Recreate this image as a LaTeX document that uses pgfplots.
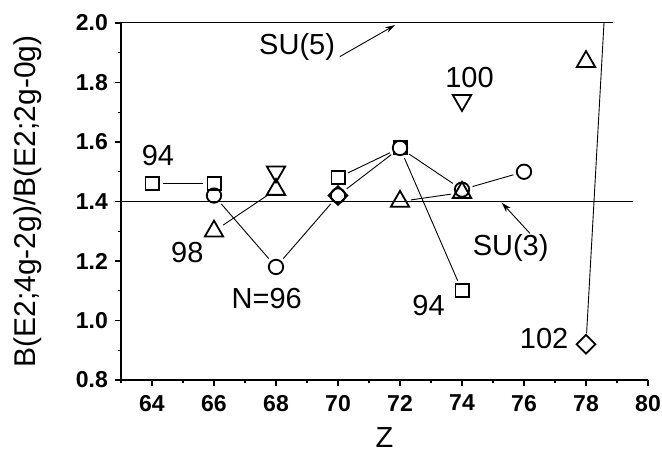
\documentclass[border=0pt]{standalone}
\usepackage{pgfplots}
\pgfplotsset{compat=1.18}
\usepackage{pgfplotstable}
\usepackage{fontspec}
\setmainfont{Liberation Sans}
\usetikzlibrary{arrows.meta}

\pgfplotstableread{
Z B
64 1.46
66 1.46
70 1.48
72 1.58
74 1.10
}\nfour
\pgfplotstableread{
Z B
66 1.42
68 1.18
70 1.42
72 1.58
74 1.44
76 1.50
}\nsix
\pgfplotstableread{
Z B
66 1.30
68 1.44
72 1.40
74 1.43
78 1.87
}\neight
\pgfplotstableread{
Z B
68 1.50
74 1.74
}\nhundred
\pgfplotstableread{
Z B
70 1.42
78 0.92
}\nhundredtwo

\newcommand{\annfont}{\fontsize{14.5}{17}\selectfont}
\begin{document}
\begin{tikzpicture}
\path[use as bounding box] (-60.5pt,-36.5pt) rectangle (270.5pt,190pt);
\begin{axis}[
  at={(0,0)}, anchor=south west,
  scale only axis, width=263.5pt, height=178.5pt,
  xmin=63, xmax=80, ymin=0.8, ymax=2.0,
  axis x line=bottom, axis y line=left,
  axis line style={-, line width=0.75pt},
  clip=false,
  xtick={64,66,...,80}, minor xtick={63,65,...,79},
  ytick={0.8,1.0,...,2.01}, minor ytick={0.9,1.1,...,1.91},
  tick align=outside,
  major tick length=3pt, minor tick length=1.7pt,
  every tick/.style={black, line width=0.6pt},
  /pgf/number format/assume math mode=true,
  yticklabel style={/pgf/number format/.cd, fixed, fixed zerofill, precision=1},
  tick label style={font=\fontsize{11.5}{13}\selectfont\bfseries},
  xticklabel style={yshift=-1pt},
  ylabel={B(E2;4g-2g)/B(E2;2g-0g)},
  every axis y label/.style={at={(axis description cs:0,0.5)}, anchor=center, rotate=90, yshift=46.5pt, font=\fontsize{15}{17}\selectfont},
]
% reference lines SU(5), SU(3)
\addplot[black, line width=0.5pt] coordinates {(63,2.0) (78.87,2.0)};
\addplot[black, line width=0.5pt] coordinates {(63,1.4) (79.5,1.4)};
% connecting segments
\pgfplotsset{seg/.style={black, line width=0.45pt, shorten <=5.5pt, shorten >=5.5pt}}
\addplot[seg] coordinates {(64,1.46) (66,1.46)};
\addplot[seg] coordinates {(70,1.48) (72,1.58)};
\addplot[seg] coordinates {(72,1.58) (74,1.10)};
\addplot[seg] coordinates {(66,1.42) (68,1.18)};
\addplot[seg] coordinates {(68,1.18) (70,1.42)};
\addplot[seg] coordinates {(70,1.42) (72,1.58)};
\addplot[seg] coordinates {(72,1.58) (74,1.44)};
\addplot[seg] coordinates {(74,1.44) (76,1.50)};
\addplot[seg] coordinates {(66,1.30) (68,1.44)};
\addplot[seg] coordinates {(72,1.40) (74,1.43)};
\addplot[black, line width=0.45pt, shorten <=5.5pt] coordinates {(78,0.92) (78.58,2.0)};
% markers
\addplot[only marks, mark=square, mark size=3.3pt, mark options={draw=black, fill=white, line width=0.9pt}] table[x=Z,y=B] {\nfour};
\addplot[only marks, mark=o, mark size=3.6pt, mark options={draw=black, fill=white, line width=0.9pt}] table[x=Z,y=B] {\nsix};
\addplot[only marks, mark=triangle, mark size=5.3pt, mark options={draw=black, line width=0.9pt}] table[x=Z,y=B] {\neight};
\addplot[only marks, mark=triangle, mark size=5.3pt, mark options={draw=black, line width=0.9pt, rotate=180}] table[x=Z,y=B] {\nhundred};
\addplot[only marks, mark=square, mark size=3.3pt, mark options={draw=black, fill=white, line width=0.9pt, rotate=45}] table[x=Z,y=B] {\nhundredtwo};
% axis title Z
\node[font=\fontsize{14.5}{17}\selectfont, inner sep=0pt] at (axis description cs:0.5,-0.16) {Z};
% annotations
\node[font=\annfont] at (axis cs:64.19,1.556) {94};
\node[font=\annfont] at (axis cs:68.68,1.92) {SU(5)};
\draw[line width=0.45pt, -{Stealth[length=5pt,width=3pt]}] (axis cs:70.06,1.887) -- (axis cs:71.84,1.993);
\node[font=\annfont] at (axis cs:74.24,1.817) {100};
\node[font=\annfont] at (axis cs:65.14,1.228) {98};
\node[font=\annfont] at (axis cs:67.70,1.075) {N=96};
\node[font=\annfont] at (axis cs:75.57,1.243) {SU(3)};
\draw[line width=0.45pt, -{Stealth[length=5pt,width=3pt]}] (axis cs:76.19,1.293) -- (axis cs:75.28,1.396);
\node[font=\annfont] at (axis cs:72.92,1.052) {94};
\node[font=\annfont] at (axis cs:76.65,0.940) {102};
\end{axis}
\end{tikzpicture}
\end{document}
